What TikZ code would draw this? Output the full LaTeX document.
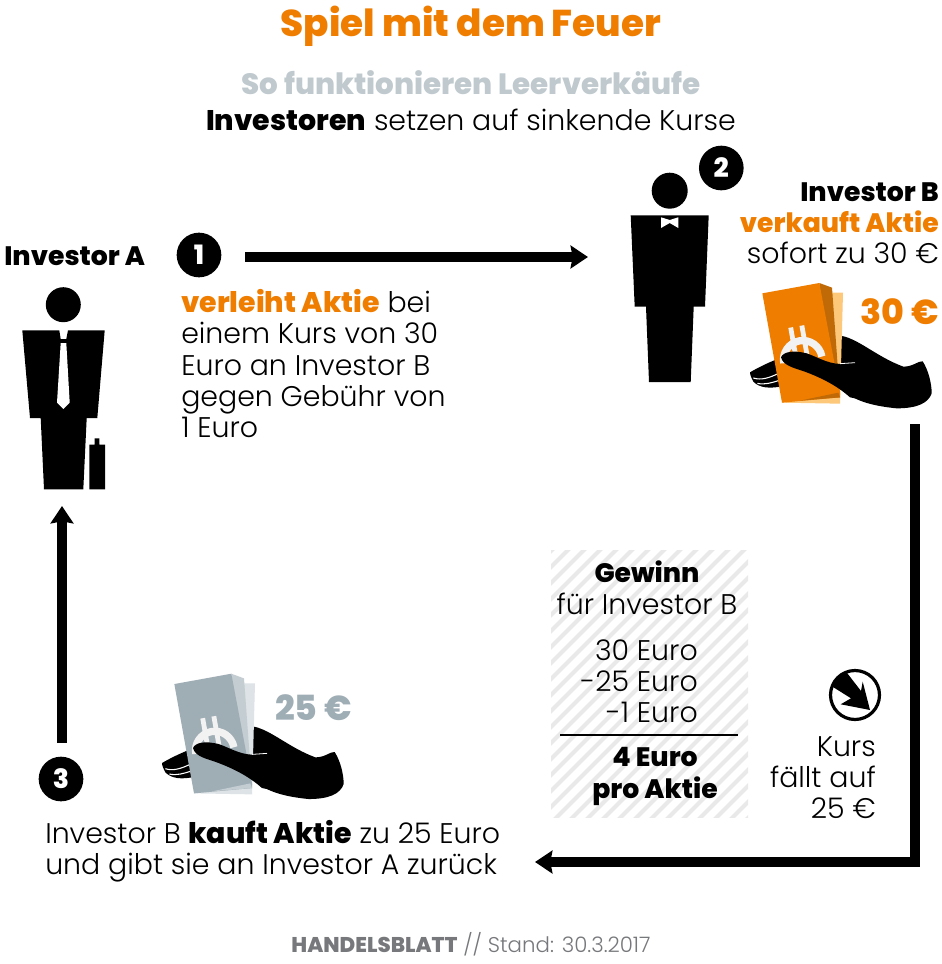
\documentclass[tikz,border=0pt]{standalone}
\usepackage{fontspec}
\setmainfont{Poppins Light}
\newfontfamily\xb{Poppins ExtraBold}
\definecolor{org}{HTML}{EF7D00}
\definecolor{orgd}{HTML}{BF6A06}
\definecolor{orgl}{HTML}{FDC87A}
\definecolor{gry}{HTML}{9FADB5}
\definecolor{gryd}{HTML}{C3CDD2}
\definecolor{gryl}{HTML}{DDE3E6}
\definecolor{ttl}{HTML}{BFC9CE}
\definecolor{foot}{HTML}{77787B}
\definecolor{strp}{HTML}{E9E9E9}
\usetikzlibrary{arrows.meta}
\tikzset{
 x=0.75pt,y=-0.75pt,
 bd/.style={font=\fontsize{21.3}{24}\selectfont,inner sep=0,text=black},
 bn/.style={font=\xb\fontsize{20}{24}\selectfont,inner sep=0,text=black},
 numc/.style={circle,fill=black,text=white,minimum size=33.5pt,inner sep=0,font=\xb\fontsize{20}{20}\selectfont},
 flow/.style={line width=7.7pt,-{Stealth[length=13pt,width=17pt,inset=1.5pt]}, black},
}
\newcommand{\handnote}[5]{%
\begin{scope}[shift={(#1,#2)},x=0.25pt,y=-0.25pt]
 \fill[black] (667,588) .. controls (720,600) and (770,650) .. (850,680) .. controls (880,680) and (895,662) .. (908,664) .. controls (925,690) and (935,730) .. (935,760) .. controls (925,790) and (890,805) .. (830,805) .. controls (780,800) and (720,790) .. (680,760) -- (640,660) -- cycle;
 \fill[black] (390,697) .. controls (410,685) and (440,670) .. (470,658) -- (480,740) .. controls (450,745) and (420,745) .. (400,725) .. controls (395,715) and (390,705) .. (390,697) -- cycle;
 \draw[white,line width=.8pt] (400,714) .. controls (425,722) and (450,712) .. (472,702);
 \draw[white,line width=.8pt] (412,730) .. controls (435,735) and (455,728) .. (475,722);
 \fill[#5] (630,458) -- (669,458) -- (660,791) -- (486,788) -- cycle;
 \fill[#4] (598,429) -- (636,443) -- (660,772) -- (600,772) -- cycle;
 \fill[#3] (427,460) -- (598,429) -- (660,758) -- (660,772) -- (486,788) -- cycle;
 \fill[#4] (540,782) -- (655,758) -- (660,772) -- cycle;
 \begin{scope}[shift={(545,640)},rotate=10]
  \draw[white!95!black,line width=5.5pt] (-58,20) arc[start angle=180,end angle=360,radius=58];
  \draw[white!95!black,line width=3.6pt] (-19,-82) -- (-19,10) (15,-82) -- (15,10);
 \end{scope}
 \fill[black] (483,652) .. controls (490,635) and (520,630) .. (560,640) .. controls (590,650) and (620,670) .. (660,672) -- (710,668) -- (760,700) -- (780,790) -- (690,772) .. controls (660,745) and (620,720) .. (560,697) .. controls (530,685) and (490,680) .. (483,652) -- cycle;
 \draw[white,line width=.6pt] (660,671) -- (705,668);
\end{scope}}
\begin{document}
\begin{tikzpicture}
\useasboundingbox (0,0) rectangle (942,964);
\fill[white] (0,0) rectangle (942,964);
% title
\node[font=\xb\fontsize{28}{30}\selectfont,text=org,inner sep=0] (title) at (471,26) {Spiel mit dem Feuer};
\node[font=\xb\fontsize{22}{24}\selectfont,text=ttl,inner sep=0] (sub) at (471,83) {So funktionieren Leerverkäufe};
\node[bd,anchor=base] (sub2) at (471,130) {{\xb Investoren} setzen auf sinkende Kurse};
% investor A
\node[bn,anchor=base west] (ia) at (4,265) {Investor A};
\node[numc] (n1) at (199,255) {1};
\node[bd,anchor=base west] (a1) at (181,312) {{\xb\color{org}verleiht Aktie} bei};
\node[bd,anchor=base west] (a2) at (181,343) {einem Kurs von 30};
\node[bd,anchor=base west] (a3) at (181,375) {Euro an Investor B};
\node[bd,anchor=base west] (a4) at (181,406) {gegen Gebühr von};
\node[bd,anchor=base west] (a5) at (181,437) {1 Euro};
% man A
\fill (63.3,304.7) circle[radius=17.5];
\fill (22.3,330.3) -- (59.3,330.3) -- (60.7,339) -- (66.3,339) -- (68,330.3) -- (104.7,330.3) -- (97.3,418) -- (86.7,418) -- (83.3,489.3) -- (44,489.3) -- (40.7,418) -- (30,418) -- cycle;
\fill[white] (60.7,343) -- (66.3,343) -- (69.7,402.7) -- (63.3,409) -- (57,402.7) -- cycle;
\fill (89.3,444.7) rectangle (105,489.3) (94.7,438.3) rectangle (99.3,444.7);
% investor B
\fill (669.7,190.7) circle[radius=18];
\fill (630.7,215.3) -- (708.7,215.3) -- (705,306.7) -- (693.7,306.7) -- (690.7,382) -- (649,382) -- (646,306.7) -- (634.7,306.7) -- cycle;
\fill[white] (661,217.3) -- (669.7,220) -- (678.3,217.3) -- (678.3,228) -- (669.7,223) -- (661,228) -- cycle;
\node[numc] (n2) at (721.3,168) {2};
\node[bn,anchor=base east] (b1) at (939,201) {Investor B};
\node[bn,anchor=base east,text=org] (b2) at (939,232) {verkauft Aktie};
\node[bd,anchor=base east] (b3) at (939,263) {sofort zu 30 €};
\node[font=\xb\fontsize{26}{28}\selectfont,text=org,inner sep=0,anchor=base east] (eur30) at (939,324) {30 €};
\handnote{620}{140}{org}{orgd}{orgl}
% second hand
\handnote{32}{530.7}{gry}{gryd}{gryl}
\node[font=\xb\fontsize{26}{28}\selectfont,text=gry,inner sep=0,anchor=base west] (eur25) at (275,720) {25 €};
\node[numc] (n3) at (61,779) {3};
\node[bd,anchor=base west] (c1) at (45,843) {Investor B {\xb kauft Aktie} zu 25 Euro};
\node[bd,anchor=base west] (c2) at (45,874) {und gibt sie an Investor A zurück};
% gewinn
\begin{scope}
 \clip (551,550) rectangle (748,817);
 \foreach \k in {0,...,40} {\draw[strp,line width=3pt] (240+\k*16,830) -- (240+\k*16+300,530);}
\end{scope}
\node[bn,anchor=base] (g1) at (647,582) {Gewinn};
\node[bd,anchor=base] (g2) at (647,614) {für Investor B};
\node[bd,anchor=base east] (g3) at (698,660) {30 Euro};
\node[bd,anchor=base east] (g4) at (698,691) {-25 Euro};
\node[bd,anchor=base east] (g5) at (698,722) {-1 Euro};
\coordinate (ruleL) at (560,734.5);
\coordinate (ruleR) at (738,734.5);
\draw[line width=1.5pt] (ruleL) -- (ruleR);
\node[bn,anchor=base] (g6) at (655,766) {4 Euro};
\node[bn,anchor=base] (g7) at (655,798) {pro Aktie};
% kurs
\draw[line width=2.4pt] (855,695) circle[radius=24.5];
\begin{scope}[shift={(855,695)}]
 \fill (-8.3,-22.5) -- (6,-4) -- (7.7,-13.3) -- (15,15) -- (-14.3,9.3) -- (-4,3.3) -- (-22,-8) -- (-18,-17) -- cycle;
\end{scope}
\node[bd,anchor=base east] (k1) at (876,756) {Kurs};
\node[bd,anchor=base east] (k2) at (876,787) {fällt auf};
\node[bd,anchor=base east] (k3) at (876,818) {25 €};
% footer
\node[inner sep=0,anchor=base,font=\fontsize{16}{18}\selectfont,text=foot] (foot) at (471,952) {{\xb HANDELSBLATT} // Stand: 30.3.2017};
% connectors
\coordinate (p1s) at (245,257);
\coordinate (p1e) at (588,257);
\coordinate (p2s) at (915,424);
\coordinate (p2c) at (915,862);
\coordinate (p2e) at (535,862);
\coordinate (p3s) at (62,743);
\coordinate (p3e) at (62,506);
\draw[flow] (p1s) -- (p1e);
\draw[flow] (p2s) -- (p2c) -- (p2e);
\draw[flow] (p3s) -- (p3e);
\end{tikzpicture}
\end{document}
